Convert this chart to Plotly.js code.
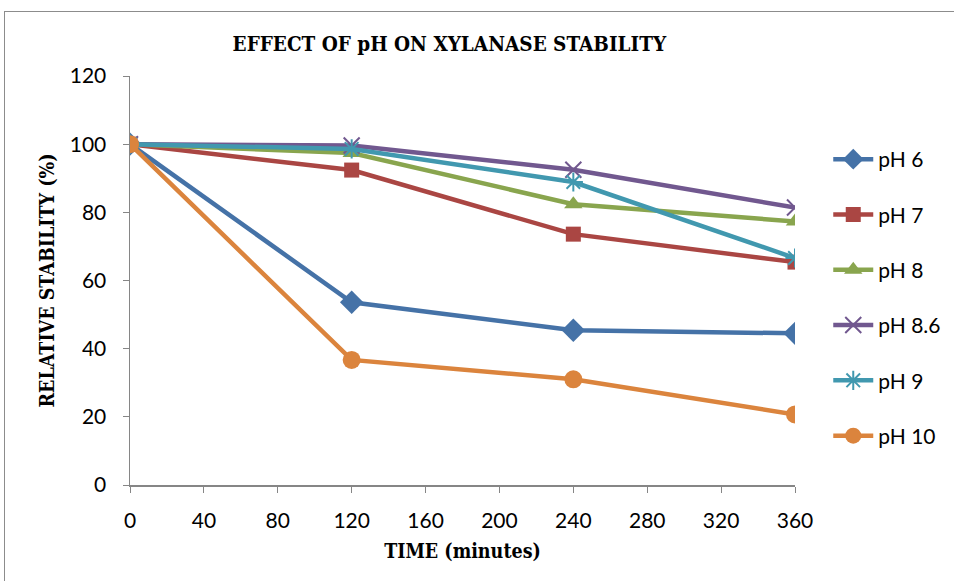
<!DOCTYPE html>
<html><head><meta charset="utf-8">
<script src="https://cdn.plot.ly/plotly-3.0.1.min.js"></script>
<style>body{margin:0;background:#fff}#frame{position:absolute;left:4px;top:11px;width:980px;height:600px;border-left:1.5px solid #8c8c8c;border-top:1.5px solid #8c8c8c;pointer-events:none}</style>
</head><body>
<div id="chart" style="width:954px;height:581px"></div>
<div id="frame"></div>
<script>
const time = [0, 120, 240, 360];
const seriesNames = ["pH 6", "pH 7", "pH 8", "pH 8.6", "pH 9", "pH 10"];
const ph6 = [100, 53.6, 45.4, 44.5];
const ph7 = [100, 92.4, 73.6, 65.4];
const ph8 = [100, 97.4, 82.4, 77.3];
const ph86 = [100, 99.6, 92.5, 81.4];
const ph9 = [100, 98.6, 88.9, 66.6];
const ph10 = [100, 36.7, 31.0, 20.7];
const colors = ["#4572A7", "#AA4643", "#89A54E", "#71588F", "#4198AF", "#DB843D"];
const symbols = ["diamond", "square", "triangle-up", "x-thin-open", "asterisk-open", "circle"];
const sizes = [18, 15, 16, 16, 16, 18];
const values = [ph6, ph7, ph8, ph86, ph9, ph10];

const traces = values.map((v, i) => ({
  x: time, y: v, name: seriesNames[i], type: "scatter", mode: "lines+markers",
  legendgroup: "g" + i,
  line: {color: colors[i], width: 4.5},
  marker: {symbol: symbols[i], size: sizes[i], color: colors[i],
           line: {color: colors[i], width: (i === 3 || i === 4) ? 2 : 0}}
}));

const serif = "'DejaVu Serif Condensed', 'Liberation Serif', serif";
const tickFont = {family: "Lato, 'Open Sans', sans-serif", size: 21, color: "#000"};
const layout = {
  width: 954, height: 581,
  margin: {l: 130, r: 159, t: 76, b: 96, autoexpand: false},
  paper_bgcolor: "#fff", plot_bgcolor: "#fff",
  title: {text: "<b>EFFECT OF pH ON XYLANASE STABILITY</b>", x: 0.471, xref: "container",
          y: 0.924, yref: "container", yanchor: "middle", xanchor: "center",
          font: {family: serif, size: 20.5, color: "#000"}},
  xaxis: {range: [0, 360], dtick: 40, tick0: 0, showgrid: false, zeroline: false,
          showline: true, linecolor: "#868686", linewidth: 1.5,
          ticks: "outside", ticklen: 6, tickcolor: "#868686", tickfont: tickFont,
          ticklabelstandoff: 10,
          title: {text: "<b>TIME (minutes)</b>", standoff: 13,
                  font: {family: serif, size: 19.5, color: "#000"}}},
  yaxis: {range: [0, 120], dtick: 20, tick0: 0, showgrid: false, zeroline: false,
          showline: true, linecolor: "#868686", linewidth: 1.5,
          ticks: "outside", ticklen: 6, tickcolor: "#868686", tickfont: tickFont,
          ticklabelstandoff: 12,
          title: {text: "<b>RELATIVE STABILITY (%)</b>", standoff: 10,
                  font: {family: serif, size: 19.5, color: "#000"}}},
  showlegend: true,
  legend: {x: 1.05, xanchor: "left", y: 0.846, yanchor: "top", xref: "paper", yref: "paper",
           font: {family: "Lato, 'Open Sans', sans-serif", size: 21, color: "#000"},
           tracegroupgap: 25, itemwidth: 40, bgcolor: "rgba(0,0,0,0)"}
};
Plotly.newPlot("chart", traces, layout, {displayModeBar: false, staticPlot: true});
</script>
</body></html>
